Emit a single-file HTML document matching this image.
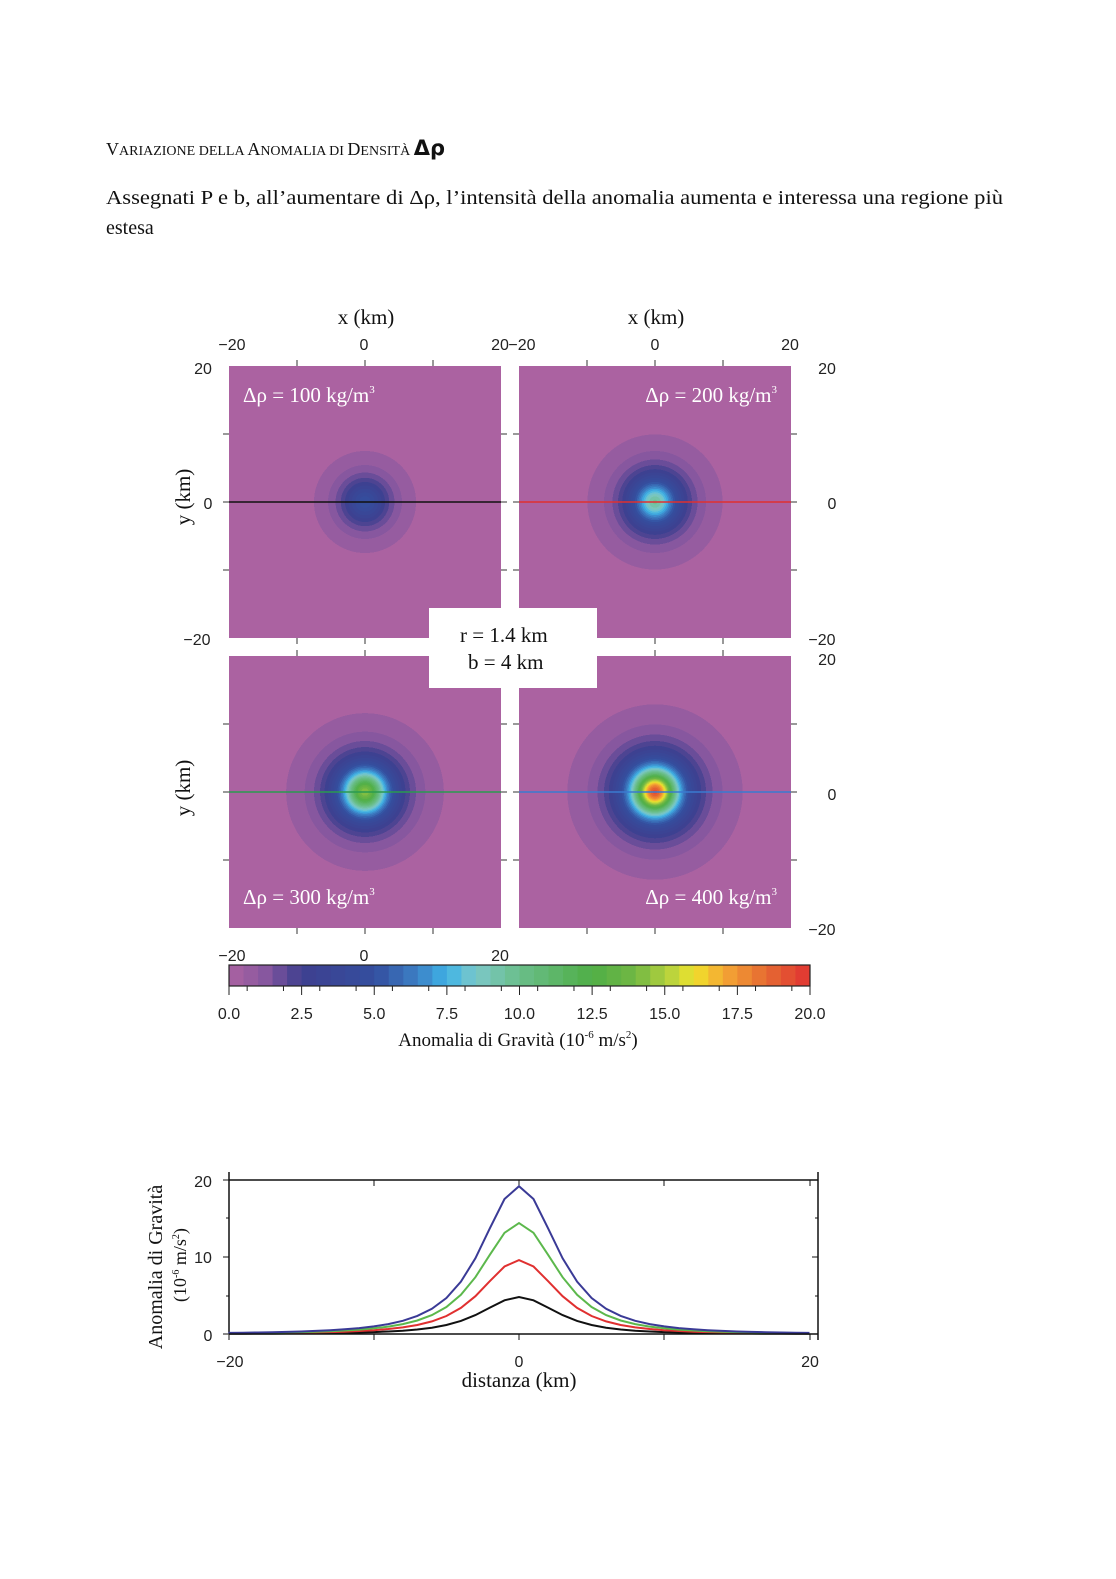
<!DOCTYPE html>
<html><head><meta charset="utf-8"><style>
body{margin:0;background:#fff;}
svg{display:block}
.s{font-family:"Liberation Sans",sans-serif;font-size:16px;fill:#222}
.t{font-family:"Liberation Serif",serif;fill:#111}
</style></head><body>
<svg id="sv" width="1116" height="1579" viewBox="0 0 1116 1579" xmlns="http://www.w3.org/2000/svg">
<rect width="1116" height="1579" fill="#fff"/>
<text class="t" x="106" y="155" font-size="18">V<tspan font-size="14">ARIAZIONE DELLA </tspan>A<tspan font-size="14">NOMALIA DI </tspan>D<tspan font-size="14">ENSITÀ </tspan><tspan font-family="DejaVu Sans" font-size="21" font-weight="bold">Δρ</tspan></text>
<text class="t" x="106" y="204" font-size="20" textLength="897" lengthAdjust="spacingAndGlyphs">Assegnati P e b, all’aumentare di Δρ, l’intensità della anomalia aumenta e interessa una regione più</text>
<text class="t" x="106" y="234" font-size="20">estesa</text>
<defs id="defs"></defs>
<g id="panels"></g>
<g class="t" font-size="21" text-anchor="middle">
<text x="366" y="324">x (km)</text><text x="656" y="324">x (km)</text>
<text x="190" y="497" transform="rotate(-90 190 497)">y (km)</text>
<text x="190" y="788" transform="rotate(-90 190 788)">y (km)</text>
</g>
<g class="s" text-anchor="middle">
<text x="232" y="350">−20</text><text x="364" y="350">0</text><text x="500" y="350">20</text>
<text x="522" y="350">−20</text><text x="655" y="350">0</text><text x="790" y="350">20</text>
<text x="203" y="374">20</text><text x="208" y="509">0</text><text x="197" y="645">−20</text>
<text x="827" y="374">20</text><text x="832" y="509">0</text><text x="822" y="645">−20</text>
<text x="827" y="665">20</text><text x="832" y="800">0</text><text x="822" y="935">−20</text>
<text x="232" y="961">−20</text><text x="364" y="961">0</text><text x="500" y="961">20</text>
</g>
<rect x="429" y="608" width="168" height="80" fill="#fff"/>
<text class="t" x="460" y="642" font-size="21">r  = 1.4 km</text>
<text class="t" x="468" y="669" font-size="21">b  = 4 km</text>
<g id="cbar"></g>
<rect x="229" y="965" width="581" height="21" fill="none" stroke="#222" stroke-width="1.2"/>
<g class="s" text-anchor="middle" id="cbl"></g>
<text class="t" x="518" y="1046" font-size="19" text-anchor="middle">Anomalia di Gravità (10<tspan font-size="11" dy="-8">-6</tspan><tspan dy="8"> m/s</tspan><tspan font-size="11" dy="-8">2</tspan><tspan dy="8">)</tspan></text>
<g id="prof"></g>
<g class="s" text-anchor="middle">
<text x="203" y="1187">20</text><text x="203" y="1263">10</text><text x="208" y="1341">0</text>
<text x="230" y="1367">−20</text><text x="519" y="1367">0</text><text x="810" y="1367">20</text>
</g>
<text class="t" x="519" y="1387" font-size="21" text-anchor="middle">distanza (km)</text>
<text class="t" x="162" y="1267" font-size="20" text-anchor="middle" transform="rotate(-90 162 1267)">Anomalia di Gravità</text>
<text class="t" x="186" y="1265" font-size="18" text-anchor="middle" transform="rotate(-90 186 1265)">(10<tspan font-size="10" dy="-7">-6</tspan><tspan dy="7"> m/s</tspan><tspan font-size="10" dy="-7">2</tspan><tspan dy="7">)</tspan></text>
</svg>
<script>
var NS="http://www.w3.org/2000/svg";
var CS=[[0,'#ab62a1'],[1.2,'#8a58a0'],[2.5,'#3e3f8f'],[5,'#344e9e'],[6.5,'#3c80c6'],[7.5,'#3fb2e6'],[8.5,'#7cc8c8'],[10,'#6abe8a'],[12.5,'#4fae46'],[14,'#72b843'],[15.5,'#cbd93a'],[16,'#f0e22a'],[17,'#f4a834'],[18.5,'#e56a32'],[20,'#e03332']];
function hx(h){return [parseInt(h.substr(1,2),16),parseInt(h.substr(3,2),16),parseInt(h.substr(5,2),16)];}
function cm(v){if(v<=0)return CS[0][1];for(var i=1;i<CS.length;i++){if(v<=CS[i][0]){var a=CS[i-1],b=CS[i],t=(v-a[0])/(b[0]-a[0]);var A=hx(a[1]),B=hx(b[1]);return 'rgb('+A.map(function(x,j){return Math.round(x+(B[j]-x)*t)}).join(',')+')';}}return CS[CS.length-1][1];}
function el(n,at,p){var e=document.createElementNS(NS,n);for(var k in at)e.setAttribute(k,at[k]);p.appendChild(e);return e;}
var defs=document.getElementById('defs'),pg=document.getElementById('panels');
var P=[[229,366,4.8,'#111','Δρ = 100 kg/m',1],[519,366,9.6,'#e03030','Δρ = 200 kg/m',2],[229,656,14.4,'#2a9a50','Δρ = 300 kg/m',3],[519,656,19.2,'#3a7ad0','Δρ = 400 kg/m',4]];
P.forEach(function(p,i){
 var cx=p[0]+136,cy=p[1]+136,R=16*6.8;
 var g=el('radialGradient',{id:'g'+i,gradientUnits:'userSpaceOnUse',cx:cx,cy:cy,r:R},defs);
 function D(v){return Math.min(4*Math.sqrt(Math.pow(p[2]/v,2/3)-1)/16,1);}
 var top=Math.floor(p[2]/0.5);
 var prev=0;
 for(var k=top;k>=1;k--){var col=cm(k*0.5+0.25);var o2=D(k*0.5);
  el('stop',{offset:prev,'stop-color':col},g);el('stop',{offset:o2,'stop-color':col},g);prev=o2;}
 el('stop',{offset:prev,'stop-color':CS[0][1]},g);
 el('stop',{offset:1,'stop-color':CS[0][1]},g);
 el('rect',{x:p[0],y:p[1],width:272,height:272,fill:CS[0][1]},pg);
 el('rect',{x:p[0],y:p[1],width:272,height:272,fill:'url(#g'+i+')'},pg);
 el('line',{x1:p[0],y1:cy,x2:p[0]+272,y2:cy,stroke:p[3],'stroke-width':1.5},pg);
 var tp=(i<2), right=(i%2==1);
 var ty=tp?p[1]+36:p[1]+248;
 var t=el('text',{x:right?p[0]+258:p[0]+14,y:ty,'font-size':21,fill:'#fff','text-anchor':right?'end':'start','font-family':'Liberation Serif,serif'},pg);
 t.textContent=p[4];var s=el('tspan',{'font-size':11,dy:-9},t);s.textContent='3';
 [-10,0,10].forEach(function(k){var x=cx+k*6.8;el('line',{x1:x,y1:p[1],x2:x,y2:p[1]-6,stroke:'#333'},pg);el('line',{x1:x,y1:p[1]+272,x2:x,y2:p[1]+278,stroke:'#333'},pg);
 el('line',{x1:p[0],y1:cy+k*6.8,x2:p[0]-6,y2:cy+k*6.8,stroke:'#333'},pg);el('line',{x1:p[0]+272,y1:cy+k*6.8,x2:p[0]+278,y2:cy+k*6.8,stroke:'#333'},pg);});
});
var cb=document.getElementById('cbar');
for(var i=0;i<40;i++){el('rect',{x:229+i*581/40,y:965,width:581/40+0.5,height:21,fill:cm((i+0.5)*0.5)},cb);}
var cl=document.getElementById('cbl');
for(var i=0;i<=8;i++){var x=229+i*581/8;var t=el('text',{x:x,y:1019},cl);t.textContent=(i*2.5).toFixed(1);el('line',{x1:x,y1:986,x2:x,y2:995,stroke:'#222'},cb);}
for(var i=0;i<16;i++){var x=229+(i+0.5)*581/16;el('line',{x1:x,y1:986,x2:x,y2:991,stroke:'#222'},cb);}
var pr=document.getElementById('prof');
el('line',{x1:229,y1:1172,x2:229,y2:1334,stroke:'#111','stroke-width':1.5},pr);
el('line',{x1:229,y1:1180,x2:818,y2:1180,stroke:'#111','stroke-width':1.5},pr);
el('line',{x1:818,y1:1172,x2:818,y2:1340,stroke:'#111','stroke-width':1.5},pr);
[1180,1257,1334].forEach(function(y){el('line',{x1:223,y1:y,x2:229,y2:y,stroke:'#111'},pr);el('line',{x1:818,y1:y,x2:812,y2:y,stroke:'#111'},pr);});
[1218,1296].forEach(function(y){el('line',{x1:226,y1:y,x2:229,y2:y,stroke:'#111'},pr);el('line',{x1:818,y1:y,x2:815,y2:y,stroke:'#111'},pr);});
[229,374,519,664,810].forEach(function(x){el('line',{x1:x,y1:1334,x2:x,y2:1340,stroke:'#111'},pr);el('line',{x1:x,y1:1180,x2:x,y2:1186,stroke:'#111'},pr);});
[[4.8,'#111'],[9.6,'#e03030'],[14.4,'#5cb84c'],[19.2,'#3a3a96']].forEach(function(c){var pts=[];for(var d=-20;d<=20;d+=1){var g=c[0]*Math.pow(16/(d*d+16),1.5);pts.push((519+d*581/40).toFixed(1)+','+(1334-g*7.7).toFixed(1));}el('polyline',{points:pts.join(' '),fill:'none',stroke:c[1],'stroke-width':2},pr);});
el('line',{x1:229,y1:1334,x2:818,y2:1334,stroke:'#111','stroke-width':1.5},pr);
</script>
</body></html>
